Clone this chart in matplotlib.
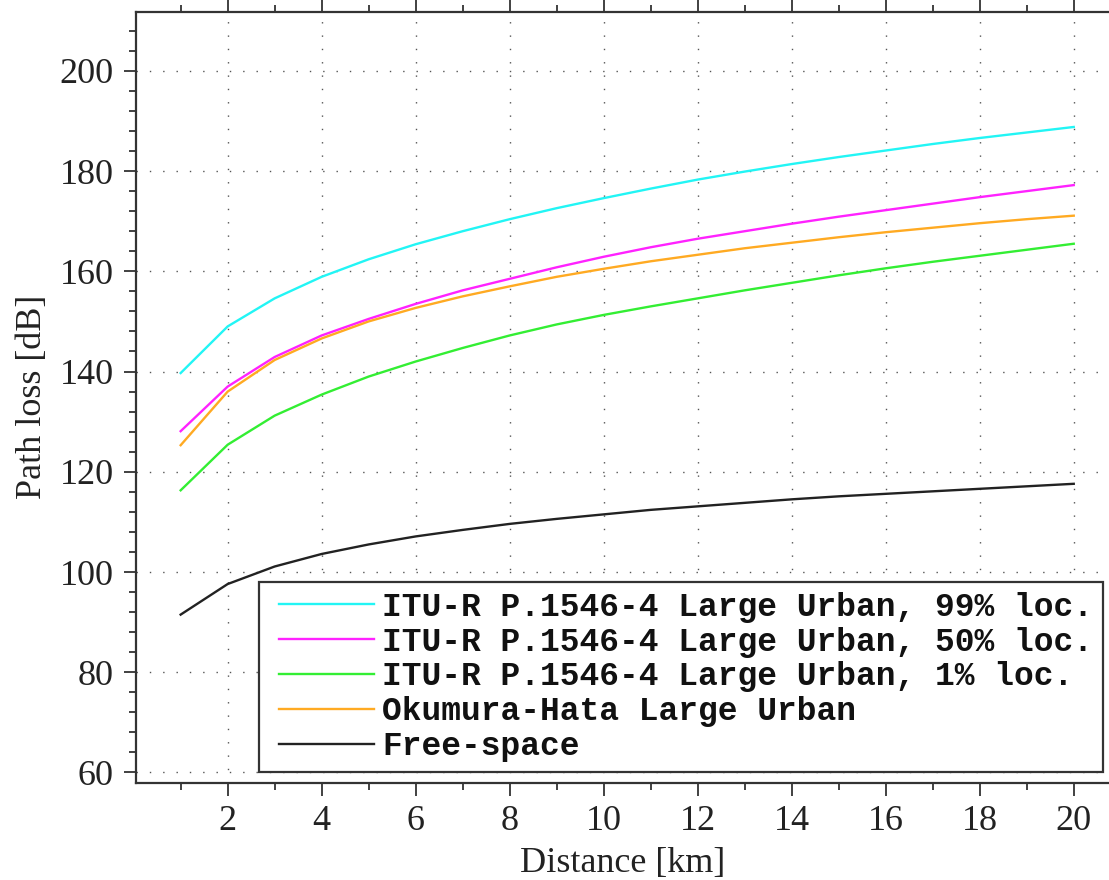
import matplotlib
matplotlib.use("Agg")
import matplotlib.pyplot as plt
from matplotlib.ticker import MultipleLocator
from matplotlib.legend_handler import HandlerLine2D
from matplotlib.lines import Line2D

distance_km = [1, 2, 3, 4, 5, 6, 7, 8, 9, 10, 11, 12, 13, 14, 15, 16, 17, 18, 19, 20]

itu_99 = [139.7, 149.0, 154.6, 158.9, 162.4, 165.4, 168.0, 170.4, 172.6, 174.6,
          176.5, 178.3, 179.9, 181.4, 182.8, 184.1, 185.4, 186.6, 187.7, 188.8]
itu_50 = [128.1, 137.0, 142.9, 147.2, 150.5, 153.5, 156.2, 158.5, 160.8, 162.9,
          164.8, 166.5, 168.0, 169.5, 170.9, 172.2, 173.5, 174.8, 176.0, 177.2]
itu_1 = [116.3, 125.4, 131.2, 135.4, 139.0, 142.0, 144.7, 147.2, 149.4, 151.3,
         153.0, 154.6, 156.2, 157.7, 159.2, 160.6, 161.9, 163.1, 164.3, 165.5]
okumura = [125.3, 136.0, 142.3, 146.6, 150.0, 152.7, 155.0, 157.0, 158.9, 160.5,
           162.0, 163.3, 164.6, 165.7, 166.8, 167.8, 168.7, 169.6, 170.4, 171.1]
free_space = [91.5, 97.6, 101.1, 103.6, 105.5, 107.1, 108.4, 109.6, 110.6, 111.5,
              112.4, 113.1, 113.8, 114.5, 115.1, 115.6, 116.1, 116.6, 117.1, 117.6]

series_labels = [
    "ITU-R P.1546-4 Large Urban, 99% loc.",
    "ITU-R P.1546-4 Large Urban, 50% loc.",
    "ITU-R P.1546-4 Large Urban, 1% loc.",
    "Okumura-Hata Large Urban",
    "Free-space",
]
series_colors = ["#22f5f5", "#ff22ff", "#33ee33", "#ffaa22", "#222222"]

x_ticks = [2, 4, 6, 8, 10, 12, 14, 16, 18, 20]
y_ticks = [60, 80, 100, 120, 140, 160, 180, 200]

W, H = 1109, 880
fig = plt.figure(figsize=(W / 100, H / 100), dpi=100)
ax = fig.add_axes([136 / W, 1 - 783 / H, (W - 136) / W, (783 - 11.7) / H])

for vals, lab, col in zip([itu_99, itu_50, itu_1, okumura, free_space], series_labels, series_colors):
    ax.plot(distance_km, vals, color=col, lw=1.7, label=lab)

ax.set_xlim(0.05, 20.75)
ax.set_ylim(57.9, 211.8)
ax.set_xticks(x_ticks)
ax.set_yticks(y_ticks)
ax.xaxis.set_minor_locator(MultipleLocator(1))
ax.yaxis.set_minor_locator(MultipleLocator(4))

serif = ["Liberation Serif", "DejaVu Serif"]
for lbl in ax.get_xticklabels() + ax.get_yticklabels():
    lbl.set_fontfamily(serif)
    lbl.set_fontsize(26)
    lbl.set_color("#222222")

ax.tick_params(which="both", direction="out", top=True, bottom=True, left=True, right=False,
               labeltop=False, color="#333333", width=1.3)
ax.tick_params(which="major", length=9, pad=7)
ax.tick_params(which="minor", length=5)

for side in ["left", "top", "bottom"]:
    ax.spines[side].set_linewidth(1.6)
    ax.spines[side].set_color("#333333")
ax.spines["right"].set_visible(False)

ax.grid(True, which="major", color="#555555", lw=1.0, linestyle=(0, (1, 8.6)))

ax.set_xlabel("Distance [km]", fontfamily=serif, fontsize=26, labelpad=6, color="#222222")
ax.set_ylabel("Path loss [dB]", fontfamily=serif, fontsize=26, labelpad=8, color="#222222")

leg = ax.legend(loc="upper left", bbox_to_anchor=(259 / W, 1 - 581.7 / H),
                bbox_transform=fig.transFigure, borderaxespad=0,
                prop={"family": ["Liberation Mono", "DejaVu Sans Mono"], "weight": "bold", "size": 23.7},
                handlelength=3.2, handletextpad=0.25, labelspacing=0.12, borderpad=0.3,
                handler_map={Line2D: HandlerLine2D(xpad=0.3)},
                fancybox=False, framealpha=1, edgecolor="#333333")
leg.get_frame().set_linewidth(1.6)
for t in leg.get_texts():
    t.set_color("#111111")

fig.savefig("out.png", dpi=100)
